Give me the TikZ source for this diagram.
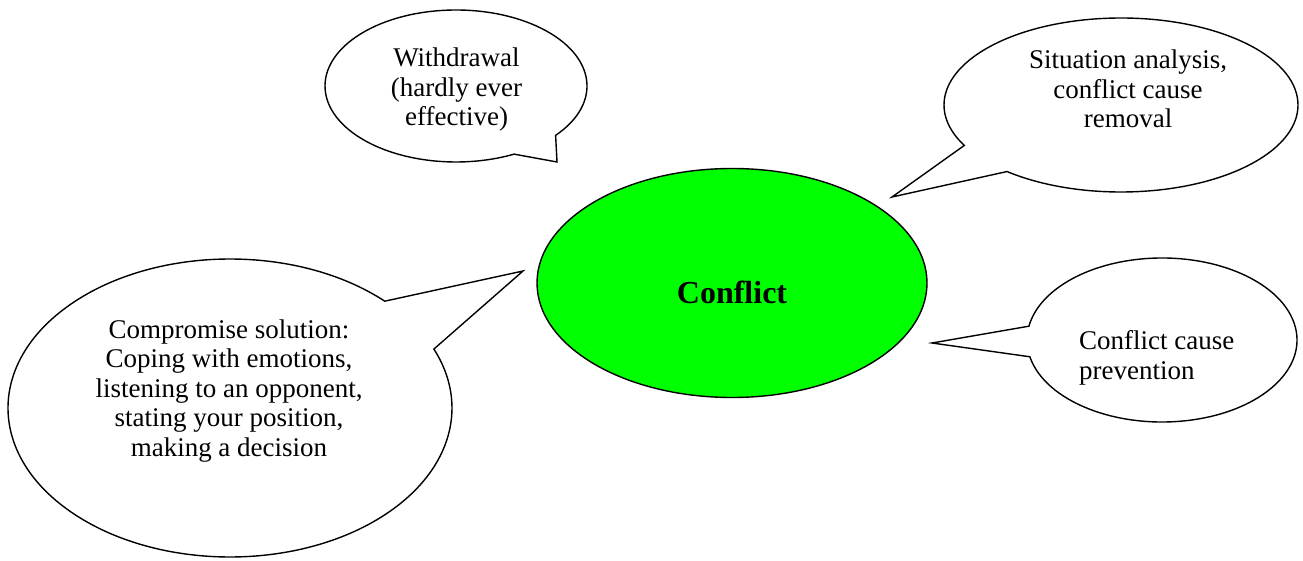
\documentclass[tikz,border=0pt]{standalone}
\usepackage{fontspec}
\setmainfont{Liberation Serif}
\usetikzlibrary{shapes.geometric}
\tikzset{
  callout/.style={draw=black, fill=white, line width=1.4pt, line join=miter},
  calltext/.style={inner sep=0pt, align=center, font=\fontsize{27}{29.5}\selectfont},
  hub/.style={ellipse, draw=black, fill=green, line width=1.4pt, inner sep=0pt,
    minimum width=390pt, minimum height=229pt},
}
\begin{document}
\begin{tikzpicture}[x=1pt,y=1pt]
\useasboundingbox (0,0) rectangle (1303,560);
% centres and tips
\coordinate (wc) at (456,474);
\coordinate (wtip) at (557,398);
\coordinate (sc) at (1121,455);
\coordinate (stip) at (892,363);
\coordinate (pc) at (1162,220);
\coordinate (ptip) at (932,217);
\coordinate (cc) at (230,152);
\coordinate (ctip) at (523,289);
% central ellipse
\node[hub] (conflict) at (732,277) {};
\node[inner sep=0pt, font=\fontsize{32}{36}\selectfont\bfseries] (conflicttext) at (732,267.8) {Conflict};
% Withdrawal callout
\draw[callout] ([shift={(wc)}]-40.5:131pt and 76pt)
  arc[start angle=-40.5, end angle=296.3, x radius=131pt, y radius=76pt]
  -- (wtip) -- cycle;
\node[calltext] (withdrawal) at (456.5,470.3) {Withdrawal\\(hardly ever\\effective)};
% Situation callout
\draw[callout] ([shift={(sc)}]229.9:177pt and 87pt)
  arc[start angle=229.9, end angle=567.7, x radius=177pt, y radius=87pt]
  -- (stip) -- cycle;
\node[calltext] (situation) at (1128,471.2) {Situation analysis,\\conflict cause\\removal};
% Prevention callout
\draw[callout] ([shift={(pc)}]191.8:135pt and 82pt)
  arc[start angle=191.8, end angle=530.3, x radius=135pt, y radius=82pt]
  -- (ptip) -- cycle;
\node[calltext, align=left, anchor=west] (prevention) at (1079,202.3) {Conflict cause\\prevention};
% Compromise callout
\draw[callout] ([shift={(cc)}]45.8:222pt and 149pt)
  arc[start angle=45.8, end angle=383.3, x radius=222pt, y radius=149pt]
  -- (ctip) -- cycle;
\node[calltext] (compromise) at (229,169.2) {Compromise solution:\\Coping with emotions,\\listening to an opponent,\\stating your position,\\making a decision};
\end{tikzpicture}
\end{document}
